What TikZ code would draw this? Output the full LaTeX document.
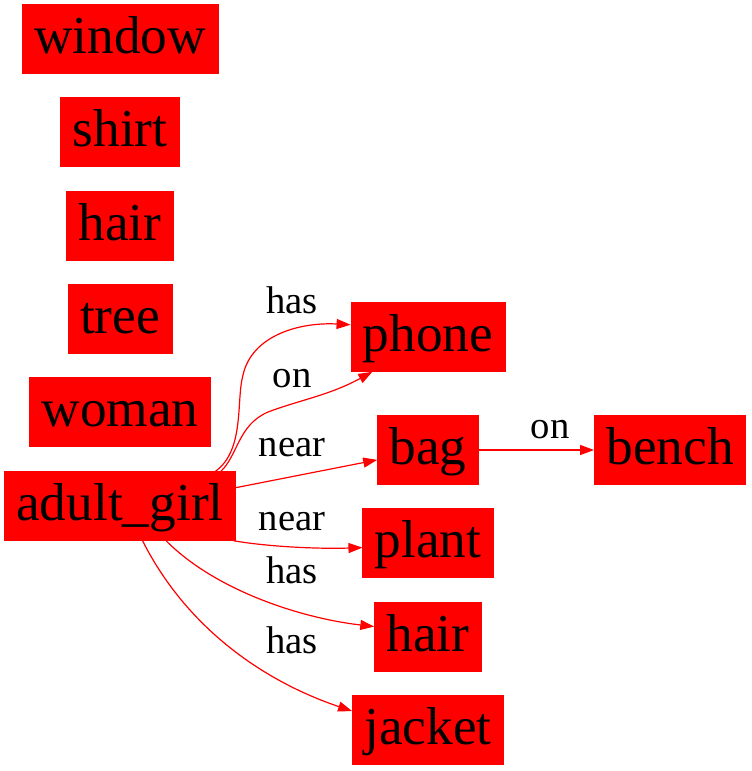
\documentclass[tikz,border=0pt]{standalone}
\usepackage{fontspec}
\setmainfont{Liberation Serif}
\usepackage{tikz}
\usetikzlibrary{arrows.meta,positioning,calc}
\usepackage{xcolor}
\definecolor{objred}{RGB}{255,0,0}
\tikzset{
  obj/.style={draw=objred, fill=objred, text=black, inner xsep=9pt, inner ysep=0pt,
              minimum height=51.75pt, text height=30pt, text depth=9pt,
              font=\fontsize{40}{48}\selectfont},
  rel/.style={anchor=base, inner sep=0pt, font=\fontsize{29}{34}\selectfont},
  edge/.style={draw=objred, line width=0.9pt, -{Triangle[length=10.5pt,width=7.5pt]}}
}
\begin{document}
\begin{tikzpicture}[x=0.75pt, y=-0.75pt]
\useasboundingbox (0,0) rectangle (751,771);
\node[obj] (window) at (120,39) {window};
\node[obj] (shirt) at (120,132) {shirt};
\node[obj] (hair) at (120,226) {hair};
\node[obj] (tree) at (120,319) {tree};
\node[obj] (woman) at (120,412) {woman};
\node[obj] (ag) at (120,506) {adult\_girl};
\node[obj] (phone) at (428,337) {phone};
\node[obj] (bag) at (428,450) {bag};
\node[obj] (bench) at (670,450) {bench};
\node[obj] (plant) at (428,543) {plant};
\node[obj] (hairb) at (428,637) {hair};
\node[obj] (jacket) at (428,730) {jacket};

\draw[edge] (ag.20) .. controls (245,450) and (236,400) .. (243,375)
  .. controls (252,335) and (300,322) .. (phone.171);
\node[rel] (l1) at (292,313) {has};
\draw[edge] (ag.19) .. controls (238,455) and (238,425) .. (268,412)
  .. controls (300,400) and (330,395) .. (phone.212);
\node[rel] (l2) at (292,387) {on};
\draw[edge] (ag.9) -- (bag.191);
\node[rel] (l3) at (292,456) {near};
\draw[edge] (bag) -- (bench);
\node[rel] (l4) at (550,438) {on};
\draw[edge] (ag.-17) .. controls (270,547) and (320,549) .. (plant.184);
\node[rel] (l5) at (292,530) {near};
\draw[edge] (ag.-37) .. controls (215,590) and (300,618) .. (hairb.169);
\node[rel] (l6) at (292,583) {has};
\draw[edge] (ag.-57) .. controls (185,625) and (260,680) .. (jacket.166);
\node[rel] (l7) at (292,653) {has};
\end{tikzpicture}
\end{document}
